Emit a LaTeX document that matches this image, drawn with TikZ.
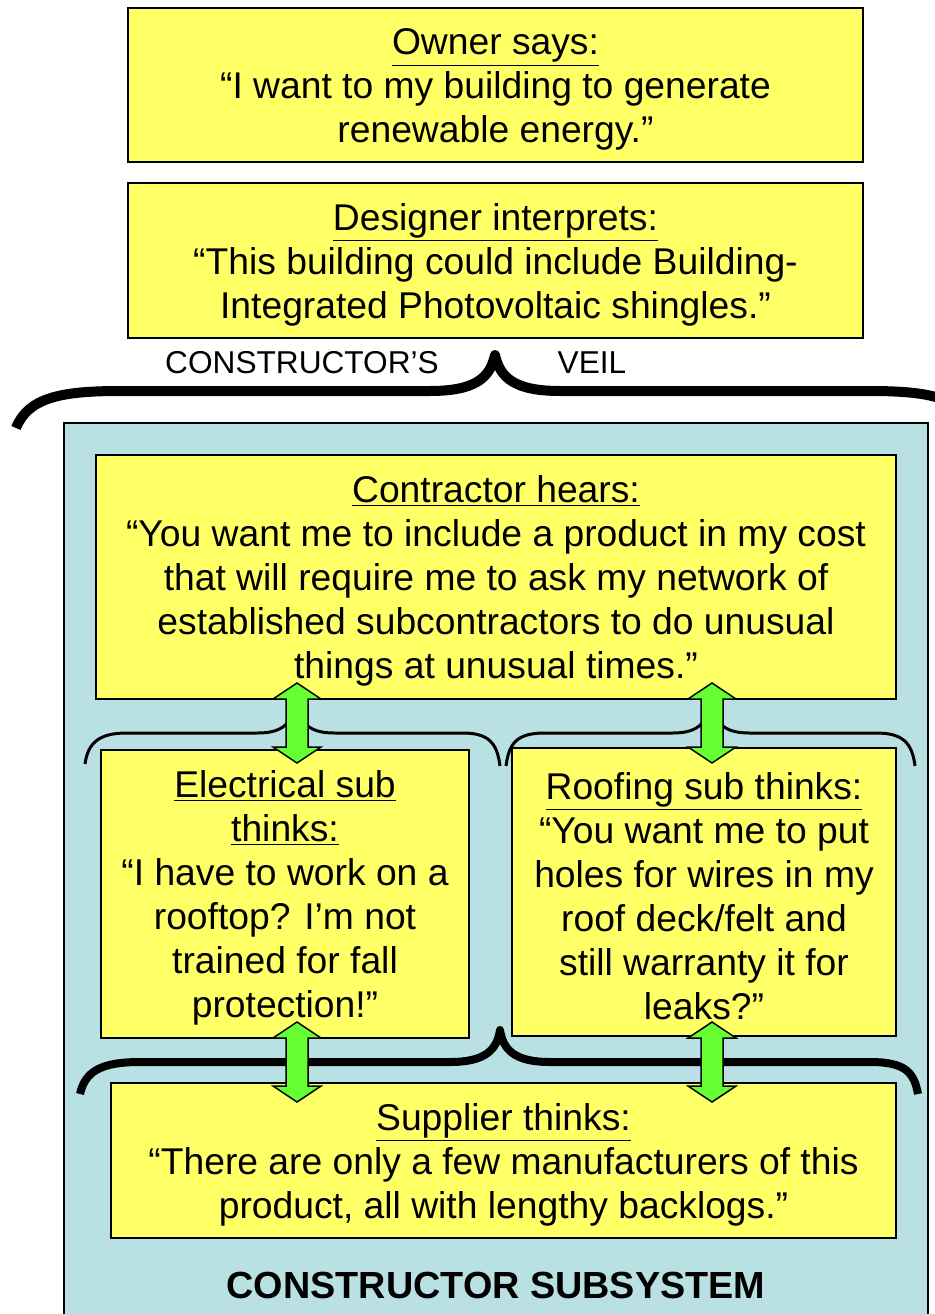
\documentclass[tikz,border=0pt]{standalone}
\usepackage{fontspec}
\setmainfont{Liberation Sans}
\usepackage{xcolor}
\usepackage{tikz}
\usetikzlibrary{arrows}

\definecolor{noteyellow}{HTML}{FFFF66}
\definecolor{subblue}{HTML}{B9E0E3}
\definecolor{arrowgreen}{HTML}{66FF33}
\newcommand{\boxhead}[1]{\rule{0pt}{20pt}\underline{#1}}

\begin{document}
\begin{tikzpicture}[x=0.02cm,y=-0.02cm,
    saybox/.style={draw=black,line width=0.04cm,fill=noteyellow,align=center,
      inner sep=0pt,font=\fontsize{21.2}{25}\selectfont},
    bracebig/.style={line width=0.2cm,line join=round},
    bracesmall/.style={line width=0.06cm,line join=round},
    updown/.pic={
      \draw[fill=arrowgreen,line width=0.03cm,line join=miter]
      (0,-40) -- (24,-24) -- (11,-24) -- (11,24) -- (24,24) -- (0,40)
      -- (-24,24) -- (-11,24) -- (-11,-24) -- (-24,-24) -- cycle;
    }]
      \useasboundingbox (0,0) rectangle (935,1314);
      \clip (0,0) rectangle (935,1314);
      \fill[white] (0,0) rectangle (935,1314);

      % the two boxes above the veil
      \node[saybox,minimum width=14.7cm,minimum height=3.08cm] (owner) at (495.5,85)
      {\boxhead{Owner says:}\\“I want to my building to generate\\renewable energy.”};
      \node[saybox,minimum width=14.7cm,minimum height=3.1cm] (designer) at (495.5,260.5)
      {\boxhead{Designer interprets:}\\“This building could include Building-\\Integrated Photovoltaic shingles.”};

      \node[font=\fontsize{18}{21}\selectfont] (veilleft) at (302,363) {CONSTRUCTOR’S};
      \node[font=\fontsize{18}{21}\selectfont] (veilright) at (592,363) {VEIL};
      \draw[bracebig] (16,428) .. controls (28,398) and (60,391) .. (120,391)
      -- (430,391) .. controls (475,391) and (490,378) .. (495,355)
      .. controls (500,378) and (515,391) .. (560,391)
      -- (870,391) .. controls (930,391) and (962,398) .. (974,428);

      % constructor subsystem
      \draw[fill=subblue,line width=0.04cm] (64,1340) -- (64,423) -- (928,423) -- (928,1340);
      \node[saybox,minimum width=16cm,minimum height=4.88cm] (contractor) at (496,577)
      {\boxhead{Contractor hears:}\\“You want me to include a product in my cost\\that will require me to ask my network of\\established subcontractors to do unusual\\things at unusual times.”};
      \node[saybox,minimum width=7.36cm,minimum height=5.76cm] (electrical) at (285,894)
      {\boxhead{Electrical sub}\\\underline{thinks:}\\“I have to work on a\\rooftop? I’m not\\trained for fall\\protection!”};
      \node[saybox,minimum width=7.68cm,minimum height=5.76cm] (roofing) at (704,892)
      {\boxhead{Roofing sub thinks:}\\“You want me to put\\holes for wires in my\\roof deck/felt and\\still warranty it for\\leaks?”};
      \node[saybox,minimum width=15.7cm,minimum height=3.1cm] (supplier) at (503.5,1160.5)
      {\boxhead{Supplier thinks:}\\“There are only a few manufacturers of this\\product, all with lengthy backlogs.”};
      \node[font=\fontsize{21.5}{25}\selectfont\bfseries] (subsystem) at (496,1285)
      {CONSTRUCTOR SUBSYSTEM};

      % braces
      \draw[bracesmall] (85,764) .. controls (88,742) and (100,733) .. (127,733)
      -- (258,733) .. controls (284,733) and (293,722) .. (296,700)
      .. controls (299,722) and (308,733) .. (334,733)
      -- (462,733) .. controls (488,733) and (497,742) .. (500,766);
      \draw[bracesmall] (506,766) .. controls (509,742) and (518,733) .. (545,733)
      -- (673,733) .. controls (699,733) and (708,722) .. (711,700)
      .. controls (714,722) and (723,733) .. (749,733)
      -- (876,733) .. controls (902,733) and (912,742) .. (915,766);
      \draw[line width=0.16cm,line join=round] (80,1094) .. controls (85,1072) and (100,1062) .. (140,1062)
      -- (450,1062) .. controls (485,1062) and (497,1050) .. (500,1030)
      .. controls (503,1050) and (515,1062) .. (550,1062)
      -- (870,1062) .. controls (905,1062) and (914,1072) .. (918,1094);

      % arrows
      \pic at (297,723) {updown};
      \pic at (712,723) {updown};
      \pic at (297,1062) {updown};
      \pic at (712,1062) {updown};
    \end{tikzpicture}
\end{document}
